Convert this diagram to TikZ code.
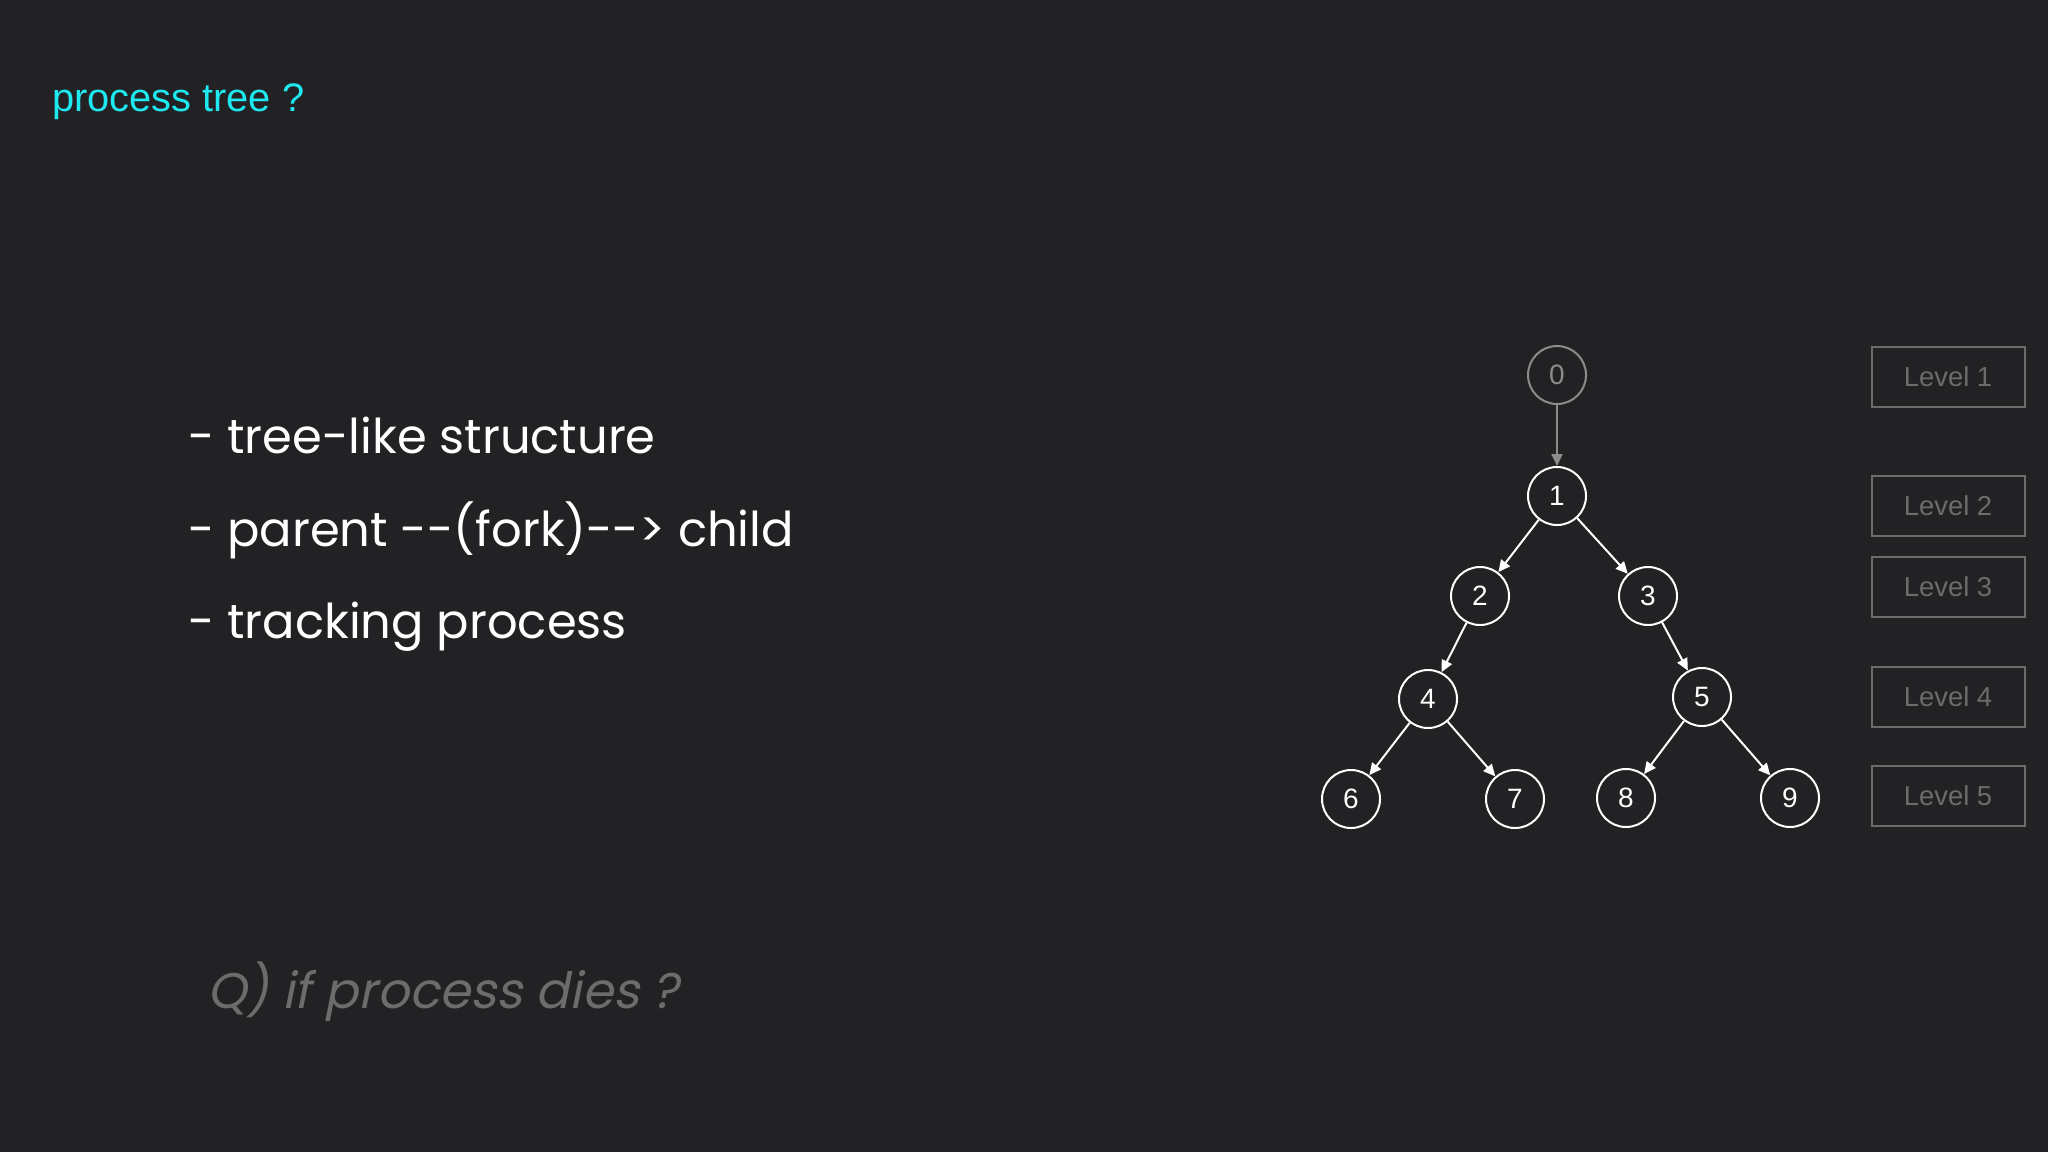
\documentclass[tikz,border=0pt]{standalone}
\usepackage{fontspec}
\setmainfont{Liberation Sans}
\newfontfamily\handfont{Poppins}
\newfontfamily\handslant[FakeSlant=0.2]{Poppins}
\usetikzlibrary{arrows.meta}
\definecolor{mybg}{RGB}{34,33,36}
\definecolor{mycyan}{RGB}{30,232,240}
\definecolor{mygray}{RGB}{108,108,108}
\definecolor{mylightgray}{RGB}{140,140,140}

\begin{document}
\begin{tikzpicture}[x=0.5pt,y=-0.5pt,
    proc/.style={circle,draw=white,line width=1pt,text=white,minimum size=29pt,inner sep=0pt,font=\fontsize{14}{16}\selectfont},
    lvlbox/.style={draw=mygray,line width=1pt,text=mygray,minimum width=76.5pt,minimum height=30pt,inner sep=0pt,font=\fontsize{13.7}{16}\selectfont},
    fork/.style={-{Triangle[length=6pt,width=5.5pt]},white,line width=1pt},
    bullet/.style={anchor=base west,text=white,font=\handfont\fontsize{24}{28}\selectfont}]
        \fill[mybg] (0,0) rectangle (2048,1152);
        \node[anchor=base west,text=mycyan,font=\fontsize{19.9}{24}\selectfont] (title) at (45,111) {process tree ?};
        \node[bullet] (b1) at (181,453) {- tree-like structure};
        \node[bullet] (b2) at (181,546) {- parent --(fork)--> child};
        \node[bullet] (b3) at (181,638) {- tracking process};
        \node[anchor=base west,text=mygray,font=\handslant\fontsize{25}{30}\selectfont] (question) at (200,1008) {Q) if process dies ?};
        \node[proc,draw=mylightgray,text=mylightgray] (p0) at (1557,375) {0};
        \node[proc] (p1) at (1557,496) {1};
        \node[proc] (p2) at (1480,596) {2};
        \node[proc] (p3) at (1648,596) {3};
        \node[proc] (p4) at (1428,699) {4};
        \node[proc] (p5) at (1702,697) {5};
        \node[proc] (p6) at (1351,799) {6};
        \node[proc] (p7) at (1515,799) {7};
        \node[proc] (p8) at (1626,798) {8};
        \node[proc] (p9) at (1790,798) {9};
        \draw[fork,mylightgray] (p0) -- (p1);
        \draw[fork] (p1) -- (p2);
        \draw[fork] (p1) -- (p3);
        \draw[fork] (p2) -- (p4);
        \draw[fork] (p3) -- (p5);
        \draw[fork] (p4) -- (p6);
        \draw[fork] (p4) -- (p7);
        \draw[fork] (p5) -- (p8);
        \draw[fork] (p5) -- (p9);
        \foreach \i/\y in {1/377,2/506,3/587,4/697,5/796}
            \node[lvlbox] (lvl\i) at (1948,\y) {Level \i};
    \end{tikzpicture}
\end{document}
